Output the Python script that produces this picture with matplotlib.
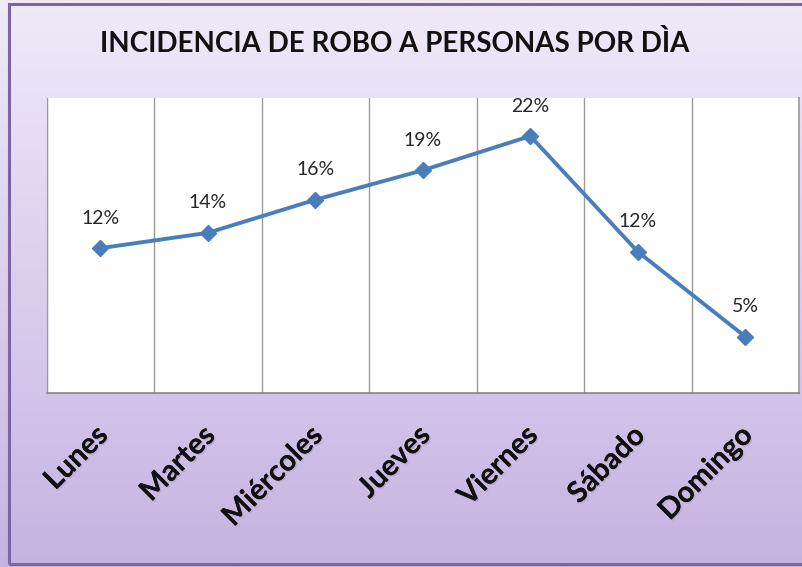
import numpy as np
import matplotlib
matplotlib.use("Agg")
import matplotlib.pyplot as plt
from matplotlib.patches import Rectangle
from matplotlib.transforms import ScaledTranslation
import matplotlib.patheffects as pe

# ---- data ----
days = ["Lunes", "Martes", "Miércoles", "Jueves", "Viernes", "Sábado", "Domingo"]
values = [0.123, 0.136, 0.164, 0.189, 0.218, 0.120, 0.048]
value_labels = ["12%", "14%", "16%", "19%", "22%", "12%", "5%"]
title = "INCIDENCIA DE ROBO A PERSONAS POR DÌA"

W, H = 802, 567
fig = plt.figure(figsize=(W / 100, H / 100), dpi=100)

# background gradient
bg = fig.add_axes([0, 0, 1, 1], zorder=0)
top = np.array([0xF0, 0xEA, 0xF9]) / 255
bot = np.array([0xC6, 0xB3, 0xE1]) / 255
t = np.linspace(0, 1, 256)[:, None]
grad = top[None, :] * (1 - t) + bot[None, :] * t
bg.imshow(grad[:, None, :], aspect="auto", extent=[0, 1, 0, 1], origin="upper")
bg.set_xlim(0, 1)
bg.set_ylim(0, 1)
bg.axis("off")

# outer border
fig.patches.append(Rectangle((8.5 / W, 1 - 563.5 / H), (W + 5) / W, (563.5 - 3.5) / H,
                             transform=fig.transFigure, fill=False,
                             edgecolor="#7E63A6", linewidth=2.2, zorder=1))

ax = fig.add_axes([46.7 / W, 1 - 393.3 / H, (799 - 46.7) / W, (393.3 - 98.3) / H], zorder=2)
ax.set_facecolor("white")
x = np.arange(len(days))
ax.set_xlim(-0.5, len(days) - 0.5)
ax.set_ylim(0, 0.25)

# vertical gridlines between categories
ax.set_xticks(np.arange(-0.5, len(days), 1.0), minor=True)
ax.grid(True, which="minor", axis="x", color="#9A9A9A", linewidth=1.0)
ax.set_xticks([])
ax.set_yticks([])
ax.tick_params(which="both", length=0)
ax.spines["top"].set_visible(False)
ax.spines["left"].set_color("#9A9A9A")
ax.spines["right"].set_color("#A8A8A8")
ax.spines["right"].set_linewidth(1.5)
ax.spines["bottom"].set_color("#868686")
ax.spines["bottom"].set_linewidth(1.2)

ax.plot(x, values, color="#4A7EBB", linewidth=2.8, marker="D", markersize=8,
        markerfacecolor="#4A7EBB", markeredgecolor="#4A7EBB", zorder=3, clip_on=False)

for xi, v, lab in zip(x, values, value_labels):
    ax.annotate(lab, (xi, v), xytext=(0, 21.5), textcoords="offset points",
                ha="center", va="center", fontsize=14, family="Lato",
                color="#262626", zorder=4, annotation_clip=False)

# category labels, rotated 45 degrees
off = ScaledTranslation(0.03, -0.38, fig.dpi_scale_trans)
for xi, d in zip(x, days):
    ax.text(xi, 0, d, transform=ax.transData + off, rotation=45,
            rotation_mode="anchor", ha="right", va="center",
            fontsize=21, fontweight="bold", family="Lato", color="#111111",
            clip_on=False,
            path_effects=[pe.withSimplePatchShadow(offset=(1, -1), shadow_rgbFace="#7a6a90", alpha=0.25),
                          pe.Normal()])

fig.text(395 / W, 1 - 44 / H, title, ha="center", va="center", fontsize=20,
         fontweight="bold", family="Lato", color="#111111", zorder=5)

fig.savefig("out.png", dpi=100)
